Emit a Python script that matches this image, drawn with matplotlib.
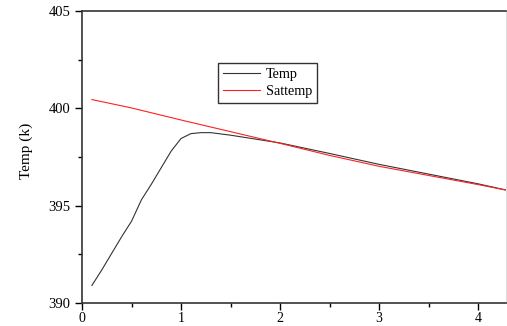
import numpy as np
import matplotlib.pyplot as plt
from matplotlib.ticker import MultipleLocator

# data
temp_x = [0.1, 0.2, 0.3, 0.4, 0.5, 0.6, 0.7, 0.8, 0.9, 1.0, 1.1, 1.2, 1.3,
          1.5, 2.0, 2.5, 3.0, 3.5, 4.0, 4.3]
temp_y = [390.9, 391.7, 392.55, 393.4, 394.2, 395.3, 396.1, 396.95, 397.8,
          398.45, 398.7, 398.75, 398.75, 398.62, 398.22, 397.68, 397.12,
          396.62, 396.12, 395.78]

sat_x = [0.1, 0.5, 1.0, 1.5, 2.0, 2.5, 3.0, 3.5, 4.0, 4.3]
sat_y = [400.45, 400.02, 399.4, 398.8, 398.2, 397.58, 397.02, 396.55,
         396.08, 395.78]

plt.rcParams["font.family"] = ["Liberation Serif", "DejaVu Serif"]

fig = plt.figure(figsize=(5.07, 3.26), dpi=100)
ax = fig.add_axes([0.1617, 0.0706, 0.8363, 0.8957])

ax.plot(temp_x, temp_y, color="#333333", linewidth=0.8, label="Temp")
ax.plot(sat_x, sat_y, color="#ff2020", linewidth=0.8, label="Sattemp")

ax.set_xlim(0, 4.28)
ax.set_ylim(390, 405)
ax.xaxis.set_major_locator(MultipleLocator(1))
ax.xaxis.set_minor_locator(MultipleLocator(0.5))
ax.yaxis.set_major_locator(MultipleLocator(5))
ax.yaxis.set_minor_locator(MultipleLocator(2.5))
ax.tick_params(which="major", direction="out", length=5, width=1, labelsize=10.5)
ax.tick_params(which="minor", direction="out", length=3, width=1)
ax.tick_params(axis="x", which="major", pad=1.5, labelsize=10)

for side in ["left", "bottom", "top"]:
    ax.spines[side].set_linewidth(1.2)
    ax.spines[side].set_color("#333333")
ax.spines["right"].set_color("#dddddd")

ax.set_ylabel("Temp (k)", fontsize=11)
ax.yaxis.set_label_coords(-0.115, 0.52)

leg = ax.legend(loc="upper left", bbox_to_anchor=(0.321, 0.822),
                borderaxespad=0, fontsize=10.2, handlelength=2.6,
                fancybox=False, framealpha=1, edgecolor="#333333",
                borderpad=0.35, labelspacing=0.3, handletextpad=0.4)
leg.get_frame().set_linewidth(1.0)

fig.savefig("out.png", dpi=100)
